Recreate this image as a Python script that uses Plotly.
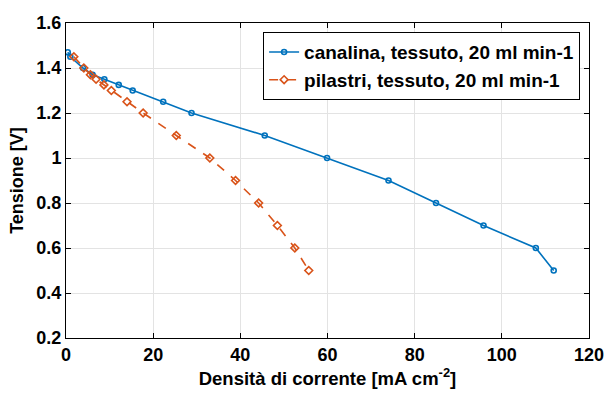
import plotly.graph_objects as go

canalina_x = [0.4, 1.0, 3.9, 6.1, 8.8, 12.1, 15.3, 22.3, 28.8, 45.6, 59.9, 74.0, 84.9, 95.8, 107.8, 111.9]
canalina_y = [1.47, 1.45, 1.40, 1.37, 1.35, 1.325, 1.30, 1.25, 1.20, 1.10, 1.00, 0.90, 0.80, 0.70, 0.60, 0.50]
pilastri_x = [1.8, 4.1, 5.6, 6.9, 8.7, 10.4, 14.0, 17.7, 25.3, 33.0, 38.9, 44.2, 48.5, 52.5, 55.7]
pilastri_y = [1.45, 1.40, 1.37, 1.35, 1.325, 1.30, 1.25, 1.20, 1.10, 1.00, 0.90, 0.80, 0.70, 0.60, 0.50]
names = ["canalina, tessuto, 20 ml min-1", "pilastri, tessuto, 20 ml min-1"]

fig = go.Figure()
fig.add_trace(go.Scatter(x=canalina_x, y=canalina_y, name=names[0], mode="lines+markers",
                         line=dict(color="#0072BD", width=1.6),
                         marker=dict(symbol="circle-open", size=5, color="#0072BD", line=dict(width=1.6))))
fig.add_trace(go.Scatter(x=pilastri_x, y=pilastri_y, name=names[1], mode="lines+markers",
                         line=dict(color="#D95319", width=1.6, dash="dash"),
                         marker=dict(symbol="diamond-open", size=6, color="#D95319", line=dict(width=1.6))))

FONT = "Liberation Sans"
axis_common = dict(showline=True, linecolor="black", linewidth=1, mirror="ticks", ticks="inside",
                   ticklen=5, tickcolor="black", showgrid=True, gridcolor="#e3e3e3", gridwidth=1,
                   zeroline=False, automargin=False,
                   tickfont=dict(family=FONT, size=18, color="black", weight="bold"))

fig.update_layout(
    width=606, height=396,
    margin=dict(l=66, r=17, t=23, b=58),
    plot_bgcolor="white", paper_bgcolor="white",
    font=dict(family=FONT, size=18, color="black", weight="bold"),
    xaxis=dict(range=[0, 120], dtick=20,
               title=dict(text="Densità di corrente [mA cm<sup>-2</sup>]",
                          font=dict(size=18.5, weight="bold"), standoff=8),
               **axis_common),
    yaxis=dict(range=[0.2, 1.6], dtick=0.2,
               title=dict(text="Tensione [V]", font=dict(size=18, weight="bold"), standoff=8),
               **axis_common),
    legend=dict(x=0.983, y=0.971, xanchor="right", yanchor="top", bgcolor="white",
                bordercolor="black", borderwidth=1,
                font=dict(size=19, family=FONT, weight="bold"),
                tracegroupgap=0, itemwidth=30),
)

fig.write_html("out.html")
